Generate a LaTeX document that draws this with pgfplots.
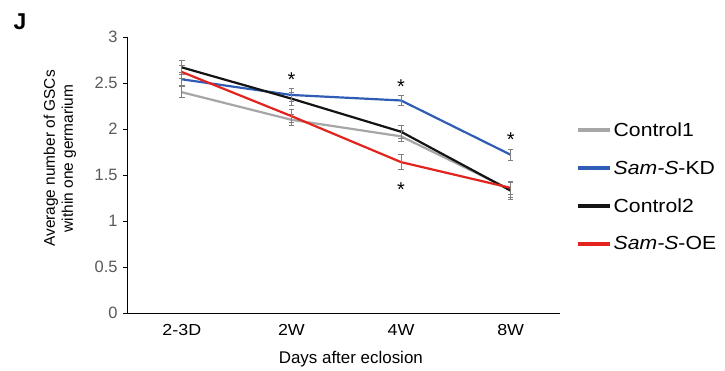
\documentclass[border=0pt]{standalone}
\usepackage{pgfplots}
\pgfplotsset{compat=1.18}
\usepackage{fontspec}
\setmainfont{Liberation Sans}
\newfontfamily\widefont[FakeStretch=1.12]{Liberation Sans}
\definecolor{cgray}{HTML}{A6A6A6}
\definecolor{lgray}{HTML}{939393}
\definecolor{cblue}{HTML}{2F5DB5}
\definecolor{cblack}{HTML}{141414}
\definecolor{cred}{HTML}{E3231E}
\definecolor{ticktext}{HTML}{595959}
\definecolor{errc}{HTML}{7F7F7F}
\begin{document}
\begin{tikzpicture}
\useasboundingbox (-127bp,-58bp) rectangle (598bp,313bp);
\begin{axis}[
  scale only axis,
  width=433bp, height=276bp,
  xmin=-0.5, xmax=3.45,
  ymin=0, ymax=3,
  xtick={0,1,2,3},
  xticklabels={2-3D,2W,4W,8W},
  ytick={0,0.5,1,1.5,2,2.5,3},
  yticklabels={0,0.5,1,1.5,2,2.5,3},
  axis x line*=bottom,
  axis y line*=left,
  axis line style={line width=0.9bp, -},
  x tick style={draw=none},
  y tick style={line width=0.6bp, black},
  tick align=outside,
  major tick length=4bp,
  yticklabel style={font=\fontsize{16.5}{18}\selectfont, text=ticktext, xshift=-2bp},
  xticklabel style={font=\widefont\fontsize{16}{18}\selectfont, text=black, yshift=-4bp},
  /pgf/number format/assume math mode=true,
  xlabel={Days after eclosion},
  xlabel style={font=\fontsize{17}{19}\selectfont, at={(axis description cs:0.517,0)}, anchor=center, yshift=-46bp},
  ylabel={Average number of GSCs\\within one germarium},
  ylabel style={font=\fontsize{15.5}{18}\selectfont, align=center, at={(axis description cs:-0.155,0.56)}, anchor=center},
  legend style={draw=none, fill=none, at={(axis description cs:1.03,0.705)}, anchor=north west,
    font=\widefont\fontsize{19}{21}\selectfont, /tikz/row sep=19bp, cells={anchor=west}},
  legend cell align=left,
  legend image code/.code={\draw[#1, line width=3.5bp] (0bp,0bp) -- (32bp,0bp);},
  every axis plot/.append style={line width=2.2bp, mark=none},
  error bars/error bar style={line width=0.8bp, errc},
  error bars/error mark options={rotate=90, mark size=2.8bp, line width=0.8bp, errc},
]
\addplot[cgray, error bars/.cd, y dir=both, y explicit] coordinates {
  (0,2.40) +- (0,0.06)
  (1,2.10) +- (0,0.06)
  (2,1.92) +- (0,0.06)
  (3,1.34) +- (0,0.08)
};
\addlegendentry{Control1}
\addplot[cblue, error bars/.cd, y dir=both, y explicit] coordinates {
  (0,2.54) +- (0,0.07)
  (1,2.37) +- (0,0.07)
  (2,2.31) +- (0,0.05)
  (3,1.72) +- (0,0.06)
};
\addlegendentry{\textit{Sam-S}-KD}
\addplot[cblack, error bars/.cd, y dir=both, y explicit] coordinates {
  (0,2.67) +- (0,0.08)
  (1,2.33) +- (0,0.07)
  (2,1.97) +- (0,0.07)
  (3,1.33) +- (0,0.09)
};
\addlegendentry{Control2}
\addplot[cred, error bars/.cd, y dir=both, y explicit] coordinates {
  (0,2.62) +- (0,0.07)
  (1,2.14) +- (0,0.07)
  (2,1.64) +- (0,0.08)
  (3,1.36) +- (0,0.07)
};
\addlegendentry{\textit{Sam-S}-OE}
\node[anchor=base, font=\fontsize{20}{20}\selectfont] at (axis cs:1,2.46) {*};
\node[anchor=base, font=\fontsize{20}{20}\selectfont] at (axis cs:2,2.385) {*};
\node[anchor=base, font=\fontsize{20}{20}\selectfont] at (axis cs:2,1.27) {*};
\node[anchor=base, font=\fontsize{20}{20}\selectfont] at (axis cs:3,1.81) {*};
\end{axis}
\node[font=\bfseries\fontsize{23}{23}\selectfont] at (-107bp,291bp) {J};
\end{tikzpicture}
\end{document}
